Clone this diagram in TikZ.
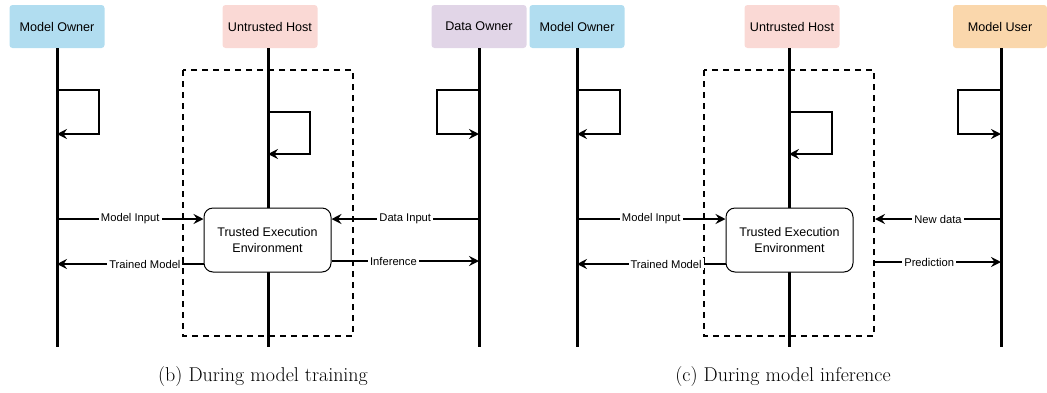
\documentclass[tikz,border=0pt]{standalone}
\usepackage{fontspec}
\newfontfamily\helv{Liberation Sans}
\usetikzlibrary{arrows.meta}
\definecolor{cblue}{HTML}{B1DDF0}
\definecolor{cred}{HTML}{FAD9D5}
\definecolor{cpurple}{HTML}{E1D5E7}
\definecolor{corange}{HTML}{FAD7AC}
\tikzset{
  actor/.style={rounded corners=3pt, minimum width=95pt, minimum height=43pt, inner sep=0pt, font=\helv\fontsize{12.6}{15}\selectfont},
  life/.style={line width=3pt},
  loopline/.style={line width=1.5pt, -{Stealth[length=10pt,width=10pt,inset=3.5pt]}},
  msg/.style={line width=1.5pt, -{Stealth[length=10pt,width=10pt,inset=3.5pt]}},
  lab/.style={fill=white, inner sep=2pt, font=\helv\fontsize{11.2}{13}\selectfont},
  tee/.style={draw, line width=1pt, rounded corners=9pt, minimum width=127pt, minimum height=64pt, align=center, inner sep=0pt, font=\helv\fontsize{12.5}{16}\selectfont},
  enclave/.style={draw, line width=1.8pt, dash pattern=on 6pt off 5pt},
  captext/.style={font=\fontsize{20}{24}\selectfont}
}
\begin{document}
\begin{tikzpicture}[x=1pt,y=-1pt]
\useasboundingbox (0,0) rectangle (1047,392);
% ---------- left panel ----------
\node[actor, fill=cblue] (mo1) at (57,26.5) {Model Owner};
\node[actor, fill=cred] (uh1) at (270,26.5) {Untrusted Host};
\node[actor, fill=cpurple] (do1) at (479,26.5) {Data Owner};
\coordinate (mo1b) at (57,347);
\coordinate (uh1b) at (268,347);
\coordinate (do1b) at (479,347);
\draw[enclave] (183,70) rectangle (353,336);
\draw[life] (mo1.south) -- (mo1b);
\draw[life] (268,48) -- (uh1b);
\draw[life] (do1.south) -- (do1b);
\coordinate (l1a) at (57,90); \coordinate (l1b) at (57,134);
\draw[loopline] (l1a) -- (99,90) -- (99,134) -- (l1b);
\coordinate (l2a) at (268,112); \coordinate (l2b) at (268,154);
\draw[loopline] (l2a) -- (310,112) -- (310,154) -- (l2b);
\coordinate (l3a) at (479,90); \coordinate (l3b) at (479,134);
\draw[loopline] (l3a) -- (437,90) -- (437,134) -- (l3b);
\node[tee, fill=white] (tee1) at (267.5,240) {Trusted Execution\\Environment};
\coordinate (mi1s) at (57,219);
\draw[msg] (mi1s) -- node[lab, pos=0.5]{Model Input} (mi1s -| tee1.west);
\coordinate (di1s) at (479,219);
\draw[msg] (di1s) -- node[lab, pos=0.5]{Data Input} (di1s -| tee1.east);
\coordinate (tm1e) at (57,264);
\draw[msg] (tm1e -| tee1.west) -- node[lab, pos=0.4]{Trained Model} (tm1e);
\coordinate (in1e) at (479,261);
\draw[msg] (in1e -| tee1.east) -- node[lab, pos=0.42]{Inference} (in1e);
\node[captext] (c1) at (263,377) {(b) During model training};
% ---------- right panel ----------
\node[actor, fill=cblue] (mo2) at (577,26.5) {Model Owner};
\node[actor, fill=cred] (uh2) at (792,26.5) {Untrusted Host};
\node[actor, fill=corange, minimum width=94pt] (mu2) at (1000,26.5) {Model User};
\coordinate (mo2b) at (577,347);
\coordinate (uh2b) at (789,347);
\coordinate (mu2b) at (1001,347);
\draw[enclave] (704,70) rectangle (874,336);
\draw[life] (mo2.south) -- (mo2b);
\draw[life] (789,48) -- (uh2b);
\draw[life] (1001,48) -- (mu2b);
\coordinate (r1a) at (577,90); \coordinate (r1b) at (577,134);
\draw[loopline] (r1a) -- (620,90) -- (620,134) -- (r1b);
\coordinate (r2a) at (789,112); \coordinate (r2b) at (789,154);
\draw[loopline] (r2a) -- (832,112) -- (832,154) -- (r2b);
\coordinate (r3a) at (1001,90); \coordinate (r3b) at (1001,134);
\draw[loopline] (r3a) -- (958,90) -- (958,134) -- (r3b);
\node[tee, fill=white] (tee2) at (789.5,240) {Trusted Execution\\Environment};
\coordinate (mi2s) at (577,219);
\draw[msg] (mi2s) -- node[lab, pos=0.5]{Model Input} (mi2s -| tee2.west);
\coordinate (nd2s) at (1001,219);
\coordinate (nd2e) at (875,219);
\draw[msg] (nd2s) -- node[lab, pos=0.5]{New data} (nd2e);
\coordinate (tm2e) at (577,264);
\draw[msg] (tm2e -| tee2.west) -- node[lab, pos=0.4]{Trained Model} (tm2e);
\coordinate (pr2s) at (875,262);
\coordinate (pr2e) at (1001,262);
\draw[msg] (pr2s) -- node[lab, pos=0.43]{Prediction} (pr2e);
\node[captext] (c2) at (783,377) {(c) During model inference};
\end{tikzpicture}
\end{document}
